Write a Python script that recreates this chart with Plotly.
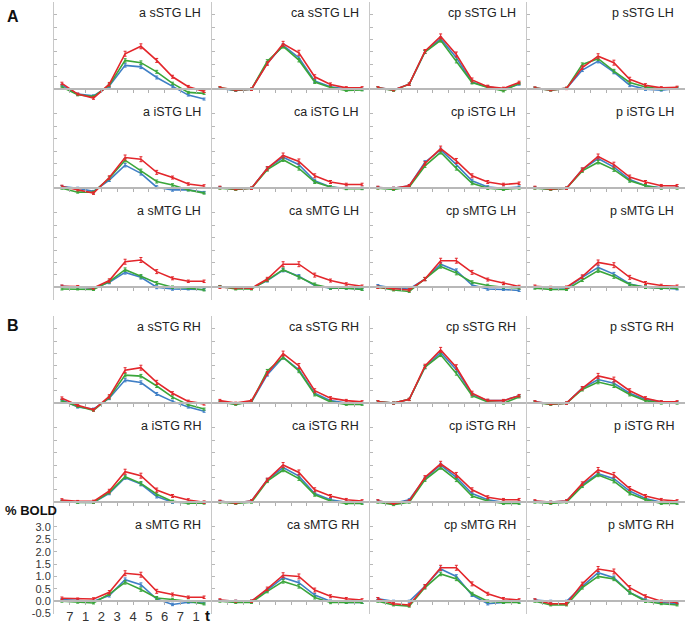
import plotly.graph_objects as go

# ---------------- data ----------------
time_labels = ["7", "1", "2", "3", "4", "5", "6", "7", "1"]
regions = ["a", "ca", "cp", "p"]
gyri = ["sSTG", "iSTG", "sMTG"]
hemis = ["LH", "RH"]

# Left hemisphere
a_sSTG_LH_red = [0.23, -0.2, -0.36, 0.2, 1.43, 1.73, 1.16, 0.5, 0.1, -0.09]
a_sSTG_LH_green = [0.09, -0.23, -0.3, 0.16, 1.16, 1.07, 0.7, 0.23, -0.13, -0.17]
a_sSTG_LH_blue = [0.16, -0.2, -0.27, 0.13, 0.96, 0.9, 0.47, 0.1, -0.24, -0.4]
ca_sSTG_LH_red = [0.05, -0.03, 0.0, 1.03, 1.83, 1.47, 0.5, 0.19, 0.05, 0.05]
ca_sSTG_LH_green = [0.05, -0.04, 0.0, 1.13, 1.73, 1.17, 0.29, 0.07, -0.05, -0.03]
ca_sSTG_LH_blue = [0.03, -0.05, 0.0, 1.05, 1.77, 1.27, 0.33, 0.1, 0.0, 0.0]
cp_sSTG_LH_red = [0.05, -0.03, 0.2, 1.53, 2.13, 1.4, 0.37, 0.1, 0.03, 0.27]
cp_sSTG_LH_green = [0.05, -0.05, 0.2, 1.5, 1.97, 1.13, 0.27, 0.07, -0.07, 0.23]
cp_sSTG_LH_blue = [0.05, -0.03, 0.2, 1.5, 2.04, 1.27, 0.29, 0.09, 0.0, 0.2]
p_sSTG_LH_red = [0.04, -0.03, 0.03, 0.87, 1.33, 1.07, 0.4, 0.16, 0.05, 0.07]
p_sSTG_LH_green = [0.04, -0.04, 0.03, 1.0, 1.23, 0.73, 0.27, 0.09, 0.0, 0.05]
p_sSTG_LH_blue = [0.04, -0.03, 0.03, 0.77, 1.13, 0.69, 0.16, 0.0, -0.04, 0.03]

a_iSTG_LH_red = [0.07, -0.07, -0.2, 0.43, 1.24, 1.17, 0.64, 0.43, 0.17, 0.09]
a_iSTG_LH_green = [0.0, -0.16, -0.16, 0.4, 1.13, 0.7, 0.27, 0.13, -0.07, -0.2]
a_iSTG_LH_blue = [0.07, 0.0, -0.13, 0.33, 0.93, 0.6, 0.04, -0.07, -0.07, -0.17]
ca_iSTG_LH_red = [0.03, -0.03, 0.0, 0.8, 1.32, 1.08, 0.5, 0.25, 0.15, 0.15]
ca_iSTG_LH_green = [0.0, -0.05, 0.0, 0.75, 1.15, 0.8, 0.25, 0.05, -0.02, -0.02]
ca_iSTG_LH_blue = [0.03, -0.03, 0.0, 0.8, 1.25, 0.95, 0.3, 0.05, 0.0, 0.0]
cp_iSTG_LH_red = [0.03, 0.0, 0.1, 1.0, 1.6, 1.1, 0.5, 0.25, 0.15, 0.2]
cp_iSTG_LH_green = [0.0, -0.05, 0.05, 0.9, 1.45, 0.8, 0.2, 0.0, -0.05, 0.0]
cp_iSTG_LH_blue = [0.03, 0.0, 0.1, 1.05, 1.55, 0.95, 0.3, 0.05, 0.0, 0.05]
p_iSTG_LH_red = [0.03, -0.03, 0.0, 0.75, 1.28, 0.95, 0.45, 0.25, 0.1, 0.1]
p_iSTG_LH_green = [0.0, -0.05, 0.0, 0.7, 1.05, 0.75, 0.3, 0.1, 0.0, 0.0]
p_iSTG_LH_blue = [0.02, -0.03, 0.0, 0.75, 1.2, 0.85, 0.35, 0.1, 0.02, 0.03]

a_sMTG_LH_red = [0.04, 0.03, -0.03, 0.27, 1.03, 1.1, 0.63, 0.36, 0.24, 0.24]
a_sMTG_LH_green = [-0.07, -0.07, -0.09, 0.23, 0.71, 0.44, 0.17, 0.0, -0.03, -0.11]
a_sMTG_LH_blue = [0.04, 0.0, -0.04, 0.2, 0.6, 0.4, 0.0, -0.07, -0.07, -0.09]
ca_sMTG_LH_red = [0.0, -0.03, -0.04, 0.33, 0.93, 0.93, 0.49, 0.27, 0.13, 0.04]
ca_sMTG_LH_green = [0.03, -0.07, -0.07, 0.29, 0.71, 0.4, 0.11, -0.03, -0.04, -0.09]
ca_sMTG_LH_blue = [0.03, -0.03, -0.04, 0.27, 0.69, 0.44, 0.07, -0.04, -0.04, -0.07]
cp_sMTG_LH_red = [0.0, -0.07, -0.11, 0.33, 1.07, 1.07, 0.6, 0.31, 0.16, 0.03]
cp_sMTG_LH_green = [0.0, -0.11, -0.17, 0.33, 0.84, 0.57, 0.2, 0.07, 0.0, -0.03]
cp_sMTG_LH_blue = [0.07, -0.03, -0.07, 0.33, 0.93, 0.67, 0.09, -0.07, -0.09, -0.13]
p_sMTG_LH_red = [0.04, 0.0, 0.0, 0.43, 1.0, 0.89, 0.4, 0.17, 0.07, 0.04]
p_sMTG_LH_green = [-0.04, -0.09, -0.09, 0.29, 0.67, 0.43, 0.11, 0.0, -0.04, -0.04]
p_sMTG_LH_blue = [0.0, -0.03, -0.03, 0.4, 0.8, 0.53, 0.13, 0.0, -0.04, -0.07]

# Right hemisphere
a_sSTG_RH_red = [0.2, -0.09, -0.27, 0.27, 1.33, 1.43, 0.84, 0.4, 0.07, -0.03]
a_sSTG_RH_green = [0.09, -0.13, -0.29, 0.23, 1.13, 1.09, 0.69, 0.24, -0.07, -0.24]
a_sSTG_RH_blue = [0.13, -0.16, -0.24, 0.2, 0.93, 0.83, 0.37, 0.07, -0.16, -0.33]
ca_sSTG_RH_red = [0.1, 0.0, 0.1, 1.2, 2.0, 1.5, 0.5, 0.2, 0.1, 0.05]
ca_sSTG_RH_green = [0.05, -0.05, 0.05, 1.3, 1.85, 1.3, 0.35, 0.05, -0.05, -0.05]
ca_sSTG_RH_blue = [0.05, -0.03, 0.05, 1.15, 1.85, 1.35, 0.4, 0.1, 0.0, 0.0]
cp_sSTG_RH_red = [0.05, 0.0, 0.15, 1.5, 2.15, 1.45, 0.4, 0.1, 0.1, 0.3]
cp_sSTG_RH_green = [0.05, 0.0, 0.15, 1.45, 1.95, 1.2, 0.3, 0.05, 0.0, 0.25]
cp_sSTG_RH_blue = [0.05, 0.0, 0.15, 1.45, 2.05, 1.35, 0.35, 0.1, 0.1, 0.3]
p_sSTG_RH_red = [0.05, -0.03, 0.0, 0.6, 1.1, 0.95, 0.5, 0.2, 0.05, 0.05]
p_sSTG_RH_green = [0.03, -0.05, 0.0, 0.55, 0.85, 0.7, 0.35, 0.1, 0.0, 0.0]
p_sSTG_RH_blue = [0.05, -0.03, 0.0, 0.6, 0.95, 0.8, 0.4, 0.15, 0.05, 0.03]

a_iSTG_RH_red = [0.09, 0.03, 0.03, 0.45, 1.23, 1.07, 0.49, 0.25, 0.09, 0.0]
a_iSTG_RH_green = [0.03, -0.01, -0.01, 0.4, 1.03, 0.76, 0.32, 0.03, -0.04, -0.04]
a_iSTG_RH_blue = [0.05, 0.0, -0.01, 0.36, 0.99, 0.73, 0.23, 0.0, -0.01, -0.01]
ca_iSTG_RH_red = [0.03, -0.03, 0.05, 0.9, 1.5, 1.2, 0.5, 0.25, 0.1, 0.05]
ca_iSTG_RH_green = [0.0, -0.05, 0.0, 0.85, 1.3, 0.95, 0.3, 0.05, -0.05, -0.05]
ca_iSTG_RH_blue = [0.03, -0.03, 0.05, 0.9, 1.4, 1.05, 0.35, 0.1, 0.0, 0.0]
cp_iSTG_RH_red = [0.05, -0.05, 0.05, 1.0, 1.55, 1.1, 0.5, 0.2, 0.1, 0.1]
cp_iSTG_RH_green = [0.0, -0.1, 0.0, 0.9, 1.4, 0.9, 0.25, 0.05, -0.05, -0.05]
cp_iSTG_RH_blue = [0.05, -0.05, 0.1, 0.95, 1.5, 1.0, 0.35, 0.1, 0.0, 0.0]
p_iSTG_RH_red = [0.05, 0.0, 0.05, 0.75, 1.3, 1.1, 0.55, 0.25, 0.1, 0.05]
p_iSTG_RH_green = [0.0, -0.05, 0.0, 0.65, 1.1, 0.85, 0.35, 0.1, -0.05, -0.05]
p_iSTG_RH_blue = [0.03, 0.0, 0.05, 0.7, 1.15, 0.95, 0.45, 0.15, 0.0, 0.0]

a_sMTG_RH_red = [0.12, 0.09, 0.09, 0.36, 1.13, 1.07, 0.4, 0.27, 0.16, 0.16]
a_sMTG_RH_green = [0.0, -0.04, -0.07, 0.29, 0.76, 0.47, 0.13, 0.07, 0.0, -0.11]
a_sMTG_RH_blue = [0.07, 0.03, 0.0, 0.23, 0.87, 0.67, 0.09, -0.13, -0.04, -0.07]
ca_sMTG_RH_red = [0.05, 0.0, 0.0, 0.5, 1.05, 1.0, 0.45, 0.2, 0.1, 0.05]
ca_sMTG_RH_green = [0.0, -0.05, -0.05, 0.4, 0.8, 0.6, 0.15, -0.05, -0.05, -0.05]
ca_sMTG_RH_blue = [0.03, 0.0, 0.0, 0.45, 0.95, 0.75, 0.25, 0.0, -0.05, -0.05]
cp_sMTG_RH_red = [0.1, -0.1, -0.15, 0.6, 1.35, 1.35, 0.7, 0.3, 0.1, 0.05]
cp_sMTG_RH_green = [0.0, -0.15, -0.2, 0.55, 1.1, 0.9, 0.3, 0.0, -0.05, -0.05]
cp_sMTG_RH_blue = [0.1, 0.0, 0.0, 0.6, 1.3, 1.0, 0.25, -0.1, -0.05, 0.0]
p_sMTG_RH_red = [0.05, -0.1, -0.1, 0.7, 1.3, 1.2, 0.55, 0.2, 0.0, -0.05]
p_sMTG_RH_green = [0.0, -0.15, -0.15, 0.55, 1.0, 0.9, 0.35, 0.0, -0.1, -0.15]
p_sMTG_RH_blue = [0.05, 0.0, 0.0, 0.6, 1.15, 0.95, 0.35, 0.05, -0.05, -0.1]

err_red = [0.05, 0.04, 0.05, 0.07, 0.1, 0.1, 0.08, 0.06, 0.05, 0.05]
err_green = [0.04, 0.04, 0.04, 0.06, 0.07, 0.07, 0.06, 0.05, 0.04, 0.04]
err_blue = [0.04, 0.04, 0.04, 0.06, 0.07, 0.07, 0.06, 0.05, 0.04, 0.04]

y_tick_vals = [-0.5, 0.0, 0.5, 1.0, 1.5, 2.0, 2.5, 3.0, 3.5]
y_tick_text = ["-0.5", "0.0", "0.5", "1.0", "1.5", "2.0", "2.5", "3.0", ""]

# ---------------- layout ----------------
W, H = 687, 629
col_px = [(54, 212), (212, 370), (370, 527), (527, 685)]
row_px = {"LH": [(2.5, 102.5), (102.5, 202.5), (202.5, 302.5)],
          "RH": [(319.5, 419.5), (419.5, 519.5), (519.5, 619.5)]}
YMIN, YMAX = -0.5, 3.5

RED, GREEN, BLUE = "#e3262b", "#3aa63a", "#3f7fc6"
FONT = "Arial, Liberation Sans, sans-serif"

fig = go.Figure()
layout = dict(width=W, height=H, margin=dict(l=0, r=0, t=0, b=0),
              paper_bgcolor="white", plot_bgcolor="white", showlegend=False,
              font=dict(family=FONT, color="#222"))
annotations = []
x_idx = list(range(10))
tick_pos = [i + 0.5 for i in range(len(time_labels))]

n = 0
for hemi in hemis:
    for ri, gyr in enumerate(gyri):
        for ci, reg in enumerate(regions):
            n += 1
            base = f"{reg}_{gyr}_{hemi}"
            red = globals()[base + "_red"]
            green = globals()[base + "_green"]
            blue = globals()[base + "_blue"]
            key = "" if n == 1 else str(n)
            xa, ya = "x" + key, "y" + key
            for vals, col, err in ((blue, BLUE, err_blue), (green, GREEN, err_green), (red, RED, err_red)):
                fig.add_trace(go.Scatter(
                    x=x_idx, y=vals, mode="lines", xaxis=xa, yaxis=ya,
                    line=dict(color=col, width=1.6),
                    error_y=dict(type="data", array=err, color=col, thickness=1, width=1.5),
                    hoverinfo="skip"))
            l, r = col_px[ci]
            t, b = row_px[hemi][ri]
            y0, y1 = 1 - b / H, 1 - t / H
            zero_pos = y0 + (0 - YMIN) / (YMAX - YMIN) * (y1 - y0)
            bottom_left = (hemi == "RH" and ri == 2 and ci == 0)
            layout["xaxis" + key] = dict(
                domain=[l / W, r / W], range=[-0.5, 9.5], anchor="free", position=zero_pos,
                showline=True, linecolor="#b8b8b8", linewidth=2,
                ticks="outside", ticklen=3, tickcolor="#b0b0b0", tickwidth=1,
                tickvals=tick_pos, ticktext=time_labels,
                showticklabels=bottom_left, tickfont=dict(size=13, color="#333", family=FONT),
                showgrid=False, zeroline=False, fixedrange=True)
            layout["yaxis" + key] = dict(
                domain=[y0, y1], range=[YMIN, YMAX], anchor=xa,
                showline=True, linecolor="#c8c8c8", linewidth=1,
                ticks="inside", ticklen=3, tickcolor="#b8b8b8", tickwidth=1,
                tickvals=y_tick_vals, ticktext=y_tick_text,
                showticklabels=bottom_left, tickfont=dict(size=11, color="#333", family=FONT),
                showgrid=False, zeroline=False, fixedrange=True)
            annotations.append(dict(
                text=f"{reg} {gyr} {hemi}", xref=f"{xa} domain", yref=f"{ya} domain",
                x=1, y=0.895, xanchor="right", yanchor="middle", xshift=-9,
                showarrow=False, font=dict(size=12.5, color="#222", family=FONT)))

annotations.append(dict(text="<b>A</b>", xref="paper", yref="paper", x=13 / W, y=1 - 17 / H,
                        xanchor="center", yanchor="middle", showarrow=False,
                        font=dict(size=16, color="#111", family=FONT)))
annotations.append(dict(text="<b>B</b>", xref="paper", yref="paper", x=13 / W, y=1 - 329 / H,
                        xanchor="center", yanchor="middle", showarrow=False,
                        font=dict(size=16, color="#111", family=FONT)))
annotations.append(dict(text="<b>% BOLD</b>", xref="paper", yref="paper", x=3 / W, y=1 - 515 / H,
                        xanchor="left", yanchor="middle", showarrow=False,
                        font=dict(size=13, color="#111", family=FONT)))
annotations.append(dict(text="<b>t</b>", xref="paper", yref="paper", x=207 / W, y=1 - 621 / H,
                        xanchor="center", yanchor="middle", showarrow=False,
                        font=dict(size=15, color="#111", family=FONT)))
layout["annotations"] = annotations
fig.update_layout(**layout)
fig.write_html("out.html", config={"displayModeBar": False},
               post_script="document.body.style.margin='0';")
